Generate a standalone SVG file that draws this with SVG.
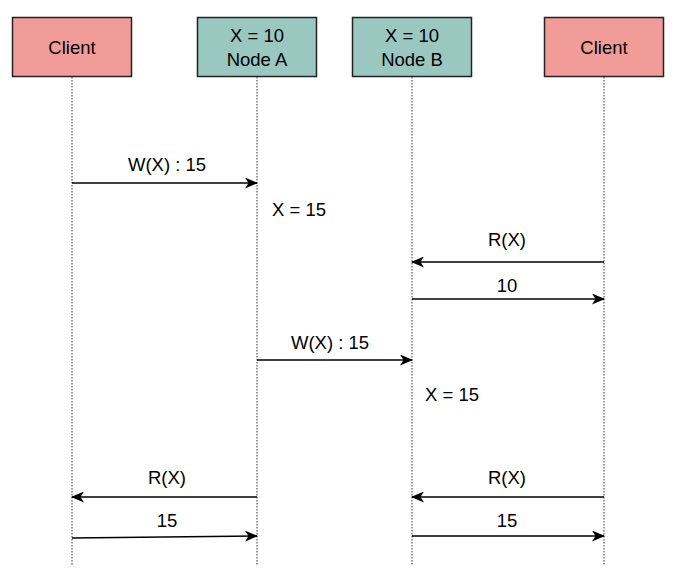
<svg xmlns="http://www.w3.org/2000/svg" width="677" height="582" viewBox="0 0 677 582">
<defs>
<style>
text{font-family:"Liberation Sans",Arial,sans-serif;font-size:18.5px;fill:#000;text-anchor:middle}
.client{fill:#f19c99;stroke:#222;stroke-width:1.5}
.node{fill:#9ac7bf;stroke:#222;stroke-width:1.5}
.life{stroke:#000;stroke-width:1;stroke-dasharray:1.5 1.5;fill:none;opacity:0.8}
.msg{stroke:#000;stroke-width:1.5;fill:none;marker-end:url(#ah)}
.free{text-anchor:start}
</style>
<marker id="ah" viewBox="0 0 13 11" refX="12" refY="5.5" markerWidth="13" markerHeight="11" markerUnits="userSpaceOnUse" orient="auto">
<path d="M0,0 L13,5.5 L0,11 L3.5,5.5 Z" fill="#000"/>
</marker>
</defs>
<g id="lifelines">
<line class="life" x1="72" y1="77" x2="72" y2="566"/>
<line class="life" x1="257" y1="77" x2="257" y2="566"/>
<line class="life" x1="412" y1="77" x2="412" y2="566"/>
<line class="life" x1="604" y1="77" x2="604" y2="566"/>
</g>
<g id="client1"><rect class="client" x="12.5" y="17.5" width="119" height="59"/><text x="72" y="54">Client</text></g>
<g id="nodeA"><rect class="node" x="197.5" y="17.5" width="119" height="59"/><text x="257" y="42">X = 10</text><text x="257" y="66">Node A</text></g>
<g id="nodeB"><rect class="node" x="352.5" y="17.5" width="119" height="59"/><text x="412" y="42">X = 10</text><text x="412" y="66">Node B</text></g>
<g id="client2"><rect class="client" x="544.5" y="17.5" width="119" height="59"/><text x="604" y="54">Client</text></g>
<g id="connectors">
<line class="msg" x1="72" y1="183" x2="257" y2="183"/>
<line class="msg" x1="604" y1="262" x2="412" y2="262"/>
<line class="msg" x1="412" y1="299" x2="604" y2="299"/>
<line class="msg" x1="257" y1="360" x2="412" y2="360"/>
<line class="msg" x1="257" y1="497" x2="72" y2="497"/>
<line class="msg" x1="72" y1="538" x2="257" y2="536"/>
<line class="msg" x1="604" y1="497" x2="412" y2="497"/>
<line class="msg" x1="412" y1="536" x2="604" y2="536"/>
</g>
<g id="labels">
<text x="167" y="171">W(X) : 15</text>
<text class="free" x="272" y="216">X = 15</text>
<text x="507" y="246">R(X)</text>
<text x="507" y="292">10</text>
<text x="330" y="349">W(X) : 15</text>
<text class="free" x="425" y="401">X = 15</text>
<text x="167" y="484">R(X)</text>
<text x="167" y="527">15</text>
<text x="507" y="484">R(X)</text>
<text x="507" y="527">15</text>
</g>
</svg>
